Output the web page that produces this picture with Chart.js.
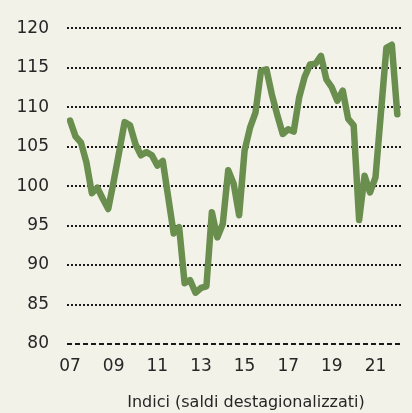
<!DOCTYPE html>
<html>
<head>
<meta charset="utf-8">
<script src="https://cdn.jsdelivr.net/npm/chart.js@4"></script>
<style>
  html, body { margin: 0; padding: 0; background: #f3f2e9; }
  #wrap { width: 412px; height: 413px; }
</style>
</head>
<body>
<div id="wrap"><canvas id="c" width="412" height="413"></canvas></div>
<script>
// Quarterly index, 2007 Q1 through 2022 Q1
const startYear = 2007;
const quarterlyIndex = [
  108.3, 106.3, 105.5, 103.0,   // 2007
   99.1,  99.8,  98.4,  97.1,   // 2008
  100.6, 104.3, 108.1, 107.7,   // 2009
  105.3, 103.9, 104.3, 103.9,   // 2010
  102.6, 103.2,  98.6,  94.0,   // 2011
   94.8,  87.7,  88.1,  86.5,   // 2012
   87.1,  87.3,  96.7,  93.5,   // 2013
   95.2, 102.0, 100.3,  96.3,   // 2014
  104.5, 107.4, 109.3, 114.6,   // 2015
  114.8, 111.6, 109.0, 106.6,   // 2016
  107.2, 106.9, 111.2, 113.8,   // 2017
  115.4, 115.5, 116.5, 113.5,   // 2018
  112.5, 110.8, 112.1, 108.5,   // 2019
  107.7,  95.7, 101.3,  99.2,   // 2020
  101.1, 109.3, 117.5, 117.9,   // 2021
  109.1                         // 2022
];
const yearTicks = [2007, 2009, 2011, 2013, 2015, 2017, 2019, 2021];
const yTicks = [80, 85, 90, 95, 100, 105, 110, 115, 120];
const axisNote = 'Indici (saldi destagionalizzati)';

const points = quarterlyIndex.map((v, i) => ({ x: startYear + i / 4, y: v }));

const TEXT = '#262626';
const FONT = '"DejaVu Sans", sans-serif';

// horizontal reference lines: dashed at the base, dotted elsewhere
const refLines = {
  id: 'refLines',
  beforeDraw(chart) {
    const { ctx } = chart;
    ctx.save();
    ctx.fillStyle = '#f3f2e9';
    ctx.fillRect(0, 0, chart.width, chart.height);
    ctx.restore();
  },
  beforeDatasetsDraw(chart) {
    const { ctx, chartArea, scales } = chart;
    const y = scales.y;
    ctx.save();
    ctx.strokeStyle = '#1a1a1a';
    ctx.lineWidth = 2;
    yTicks.forEach(v => {
      const py = Math.round(y.getPixelForValue(v));
      ctx.setLineDash(v === 80 ? [5, 3] : [2, 2]);
      ctx.beginPath();
      ctx.moveTo(chartArea.left, py);
      ctx.lineTo(chartArea.right, py);
      ctx.stroke();
    });
    ctx.restore();
  },
  afterDraw(chart) {
    const { ctx } = chart;
    ctx.save();
    ctx.fillStyle = TEXT;
    ctx.font = '16px ' + FONT;
    ctx.textAlign = 'center';
    ctx.textBaseline = 'middle';
    ctx.fillText(axisNote, 246, 403);
    ctx.restore();
  }
};

new Chart(document.getElementById('c'), {
  type: 'line',
  data: {
    datasets: [{
      data: points,
      borderColor: '#6a8e4e',
      borderWidth: 6.5,
      borderCapStyle: 'round',
      borderJoinStyle: 'round',
      pointRadius: 0,
      tension: 0,
      fill: false
    }]
  },
  options: {
    responsive: false,
    animation: false,
    layout: { padding: { top: 27, right: 11, left: 0, bottom: 0 } },
    plugins: { legend: { display: false }, tooltip: { enabled: false } },
    scales: {
      x: {
        type: 'linear',
        min: 2006.86,
        max: 2022.17,
        grid: { display: false, drawTicks: false },
        border: { display: false },
        afterBuildTicks: s => { s.ticks = yearTicks.map(v => ({ value: v })); },
        afterFit: s => { s.height = 69; },
        ticks: {
          color: TEXT,
          font: { family: FONT, size: 17 },
          padding: 12,
          maxRotation: 0,
          autoSkip: false,
          callback: v => String(v % 100).padStart(2, '0')
        }
      },
      y: {
        min: 80,
        max: 120,
        grid: { display: false, drawTicks: false },
        border: { display: false },
        afterBuildTicks: s => { s.ticks = yTicks.map(v => ({ value: v })); },
        afterFit: s => { s.width = 67; },
        ticks: {
          color: TEXT,
          font: { family: FONT, size: 17 },
          padding: 18
        }
      }
    }
  },
  plugins: [refLines]
});
</script>
</body>
</html>
